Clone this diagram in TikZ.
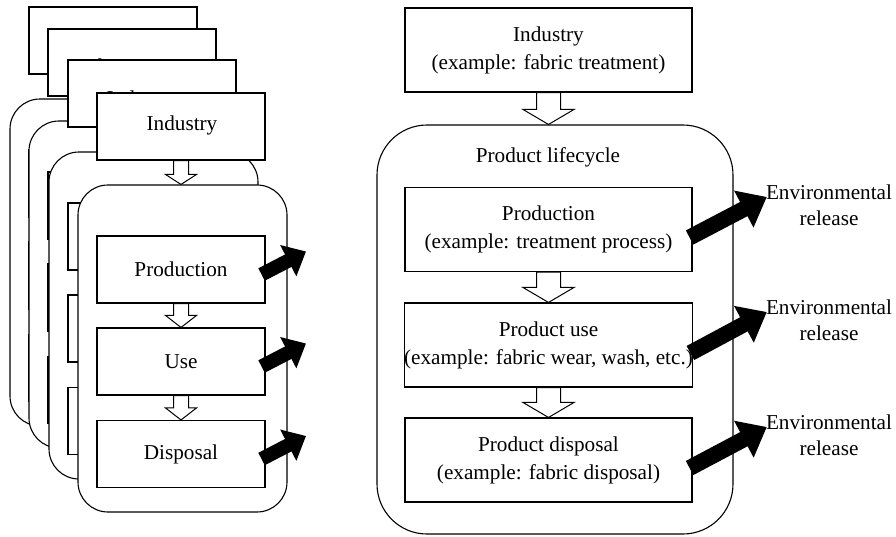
\documentclass[tikz,border=0pt]{standalone}
\usepackage{fontspec}
\setmainfont{Liberation Serif}
\usetikzlibrary{arrows.meta,calc,positioning}

% hollow block arrow: start, tip, shaft half width, head half width, head length
\newcommand{\hollowarrow}[5]{%
  \draw[line width=1pt,fill=white] ($(#1)+(-#3,0)$) -- ($(#2)+(-#3,-#5)$) -- ($(#2)+(-#4,-#5)$) -- (#2)
    -- ($(#2)+(#4,-#5)$) -- ($(#2)+(#3,-#5)$) -- ($(#1)+(#3,0)$) -- cycle;}

\tikzset{
  txt/.style={inner sep=0,font=\fontsize{21.2}{28}\selectfont,align=center},
  smallbox/.style={txt,draw=black,fill=white,line width=1.1pt,minimum width=168pt,minimum height=67pt},
  bigbox/.style={txt,draw=black,fill=white,line width=1.1pt,minimum width=287pt,minimum height=84pt},
  smallcycle/.style={draw=black,fill=white,line width=1.1pt,rounded corners=30pt,minimum width=209pt,minimum height=327pt},
  bigcycle/.style={draw=black,fill=white,line width=1.1pt,rounded corners=50pt,minimum width=356pt,minimum height=409pt},
  release/.style={txt,font=\fontsize{21.2}{26}\selectfont},
  smallout/.style={line width=14pt,-{Triangle[width=34pt,length=20pt]}},
  bigout/.style={line width=16pt,-{Triangle[width=40pt,length=26pt]}}
}

\begin{document}
\begin{tikzpicture}[x=1pt,y=-1pt]
\useasboundingbox (0,0) rectangle (896,536);

% left: several industries stacked
\foreach \dx/\dy/\tx/\ty/\lay in {-68/-86/-22/8/1, -49/-64/-22/6/2, -29/-33/-10/7/3, 0/0/1/-1/4}{
  \begin{scope}[shift={(\dx,\dy)}]
    \node[smallbox] (ind\lay) at (181,126.5) {};
    \node[txt] (indname\lay) at ($(ind\lay)+(\tx,\ty)$) {Industry};
    \node[smallcycle] (life\lay) at (182.5,348.5) {};
    \hollowarrow{ind\lay.south}{ind\lay.south |- life\lay.north}{7.5}{15.5}{10}
    \node[smallbox] (prod\lay) at (181,269.5) {Production};
    \node[smallbox] (use\lay) at (181,361.5) {Use};
    \node[smallbox] (disp\lay) at (181,454) {Disposal};
    \hollowarrow{prod\lay.south}{prod\lay.south |- use\lay.north}{7.5}{15.5}{12}
    \hollowarrow{use\lay.south}{use\lay.south |- disp\lay.north}{7.5}{15.5}{12}
  \end{scope}
}
\coordinate (out1) at (306,251.5);
\coordinate (out2) at (306,343.5);
\coordinate (out3) at (306,436);
\draw[smallout] ($(prod4.east)+(-4,5)$) -- (out1);
\draw[smallout] ($(use4.east)+(-4,5)$) -- (out2);
\draw[smallout] ($(disp4.east)+(-4,5)$) -- (out3);

% right: one industry in detail
\node[bigbox] (ind) at (548.5,50) {Industry\\(example: fabric treatment)};
\node[bigcycle] (life) at (555,329.5) {};
\hollowarrow{ind.south}{ind.south |- life.north}{12}{25.5}{15}
\node[txt] (lifename) at (548,157) {Product lifecycle};
\node[bigbox] (prod) at (548.5,229.5) {Production\\(example: treatment process)};
\node[bigbox] (use) at (548.5,345) {Product use\\(example: fabric wear, wash, etc.)};
\node[bigbox] (disp) at (548.5,460) {Product disposal\\(example: fabric disposal)};
\hollowarrow{prod.south}{prod.south |- use.north}{12}{25.5}{15}
\hollowarrow{use.south}{use.south |- disp.north}{12}{25.5}{15}

\node[release] (rel1) at (829,205) {Environmental\\release};
\node[release] (rel2) at (829,320) {Environmental\\release};
\node[release] (rel3) at (829,435) {Environmental\\release};
\draw[bigout] ($(prod.east)+(-3,8)$) -- ($(rel1.west)+(1,-8)$);
\draw[bigout] ($(use.east)+(-3,8)$) -- ($(rel2.west)+(1,-8)$);
\draw[bigout] ($(disp.east)+(-3,8)$) -- ($(rel3.west)+(1,-8)$);
\end{tikzpicture}
\end{document}
